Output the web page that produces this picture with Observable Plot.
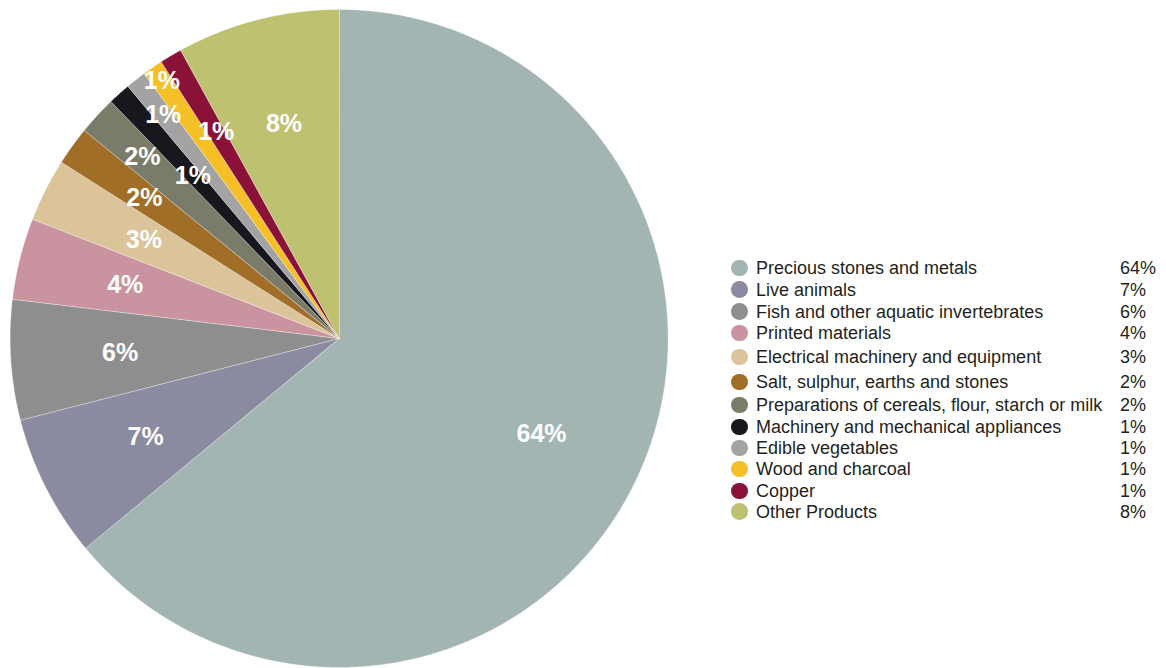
<!DOCTYPE html>
<html><head><meta charset="utf-8">
<script src="https://cdn.jsdelivr.net/npm/d3@7"></script>
<script src="https://cdn.jsdelivr.net/npm/@observablehq/plot@0.6"></script>
<style>
html,body{margin:0;padding:0;background:#fff;}
#wrap{position:relative;width:1166px;height:668px;overflow:hidden;font-family:"Liberation Sans",Arial,Helvetica,sans-serif;}
#pie{position:absolute;left:0;top:0;}
.row{position:absolute;left:0;width:1166px;height:18px;line-height:18px;font-size:18px;color:#231f20;white-space:nowrap;}
.sw{position:absolute;left:731px;top:0.7px;width:16.6px;height:16.6px;border-radius:50%;}
.nm{position:absolute;left:756px;top:0;}
.pc{position:absolute;left:1120px;top:0;}
</style></head>
<body><div id="wrap"><div id="pie"></div><div id="legend"></div></div>
<script>
// ---- data ----
const categories = [
  "Precious stones and metals",
  "Live animals",
  "Fish and other aquatic invertebrates",
  "Printed materials",
  "Electrical machinery and equipment",
  "Salt, sulphur, earths and stones",
  "Preparations of cereals, flour, starch or milk",
  "Machinery and mechanical appliances",
  "Edible vegetables",
  "Wood and charcoal",
  "Copper",
  "Other Products"
];
const shares = [64.0, 7.0, 5.9, 4.0, 3.1, 1.9, 1.9, 1.1, 1.0, 1.0, 1.1, 8.0];

// ---- styles / layout ----
const palette = ["#a2b5b2","#8a8aa0","#8e8e8e","#c9939f","#dbc39a","#a06e26","#7b7b69","#17171d","#a3a3a3","#f5bf27","#8a1238","#bec170"];
const labelRadius = [0.68, 0.66, 0.667, 0.67, 0.665, 0.73, 0.813, 0.665, 0.865, 0.95, 0.73, 0.674];
const legendCenters = [268, 289.5, 311.5, 333, 357, 382, 405, 427, 448, 469, 491, 511.5];

const total = d3.sum(shares);
let acc = 0;
const slices = categories.map((name, i) => {
  const a0 = acc / total * 2 * Math.PI;
  acc += shares[i];
  const a1 = acc / total * 2 * Math.PI;
  return {name, a0, a1, label: Math.round(shares[i]) + "%", i};
});
const outline = slices.flatMap(s => {
  const pts = [{name: s.name, x: 0, y: 0}];
  const n = Math.max(4, Math.ceil((s.a1 - s.a0) / (Math.PI / 720)));
  for (let k = 0; k <= n; k++) {
    const a = s.a0 + (s.a1 - s.a0) * k / n;
    pts.push({name: s.name, x: Math.sin(a), y: Math.cos(a)});
  }
  return pts;
});
const labels = slices.map(s => {
  const a = (s.a0 + s.a1) / 2, r = labelRadius[s.i];
  return {text: s.label, x: r * Math.sin(a), y: r * Math.cos(a)};
});

const chart = Plot.plot({
  width: 680, height: 668,
  marginLeft: 9.6, marginRight: 12.4, marginTop: 9, marginBottom: 1,
  x: {domain: [-1, 1], axis: null},
  y: {domain: [-1, 1], axis: null},
  color: {domain: categories, range: palette},
  style: {fontFamily: '"Liberation Sans", Arial, Helvetica, sans-serif', background: "transparent"},
  marks: [
    Plot.line(outline, {x: "x", y: "y", z: "name", fill: "name", stroke: "white", strokeWidth: 0.5, strokeOpacity: 0.7, curve: "linear-closed"}),
    Plot.text(labels, {x: "x", y: "y", text: "text", fill: "white", fontSize: 25, fontWeight: "bold"})
  ]
});
document.getElementById("pie").appendChild(chart);

const legend = document.getElementById("legend");
slices.forEach(s => {
  const row = document.createElement("div");
  row.className = "row";
  row.style.top = (legendCenters[s.i] - 9) + "px";
  row.innerHTML = `<span class="sw" style="background:${palette[s.i]}"></span><span class="nm">${s.name}</span><span class="pc">${s.label}</span>`;
  legend.appendChild(row);
});
</script>
</body></html>
